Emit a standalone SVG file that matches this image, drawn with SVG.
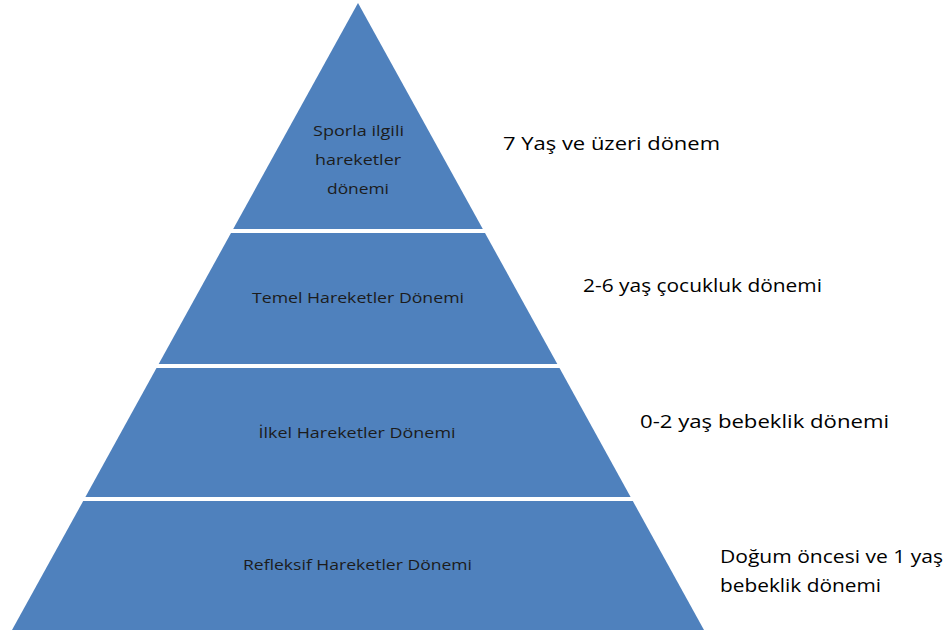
<svg xmlns="http://www.w3.org/2000/svg" width="950" height="633" viewBox="0 0 950 633">
<style>
.layer{fill:#4F81BD;}
.in{font-family:"Open Sans","Liberation Sans",sans-serif;font-size:15px;fill:#1c1c1c;text-anchor:middle;}
.out{font-family:"Open Sans","Liberation Sans",sans-serif;font-size:19px;fill:#000;}
</style>
<rect width="950" height="633" fill="#fff"/>
<g id="layer1">
<polygon class="layer" points="358,3 482.8,229 233.2,229"/>
<text class="in" x="358.5" y="136" textLength="91" lengthAdjust="spacingAndGlyphs">Sporla ilgili</text>
<text class="in" x="358" y="165" textLength="86" lengthAdjust="spacingAndGlyphs">hareketler</text>
<text class="in" x="358" y="194" textLength="62" lengthAdjust="spacingAndGlyphs">dönemi</text>
</g>
<g id="layer2">
<polygon class="layer" points="231,233 485,233 557.3,364 158.7,364"/>
<text class="in" x="358" y="303" textLength="212" lengthAdjust="spacingAndGlyphs">Temel Hareketler Dönemi</text>
</g>
<g id="layer3">
<polygon class="layer" points="156.5,368 559.5,368 630.6,497 85.4,497"/>
<text class="in" x="357" y="438" textLength="197" lengthAdjust="spacingAndGlyphs">İlkel Hareketler Dönemi</text>
</g>
<g id="layer4">
<polygon class="layer" points="83.2,501 632.8,501 704,630 12,630"/>
<text class="in" x="357.5" y="570" textLength="229" lengthAdjust="spacingAndGlyphs">Refleksif Hareketler Dönemi</text>
</g>
<g id="labels">
<text class="out" x="503" y="150" textLength="217" lengthAdjust="spacingAndGlyphs">7 Yaş ve üzeri dönem</text>
<text class="out" x="583" y="292" textLength="239" lengthAdjust="spacingAndGlyphs">2-6 yaş çocukluk dönemi</text>
<text class="out" x="640" y="428" textLength="249" lengthAdjust="spacingAndGlyphs">0-2 yaş bebeklik dönemi</text>
<text class="out" x="720" y="563" textLength="223" lengthAdjust="spacingAndGlyphs">Doğum öncesi ve 1 yaş</text>
<text class="out" x="720" y="592" textLength="161" lengthAdjust="spacingAndGlyphs">bebeklik dönemi</text>
</g>
<g id="connectors"/>
</svg>
